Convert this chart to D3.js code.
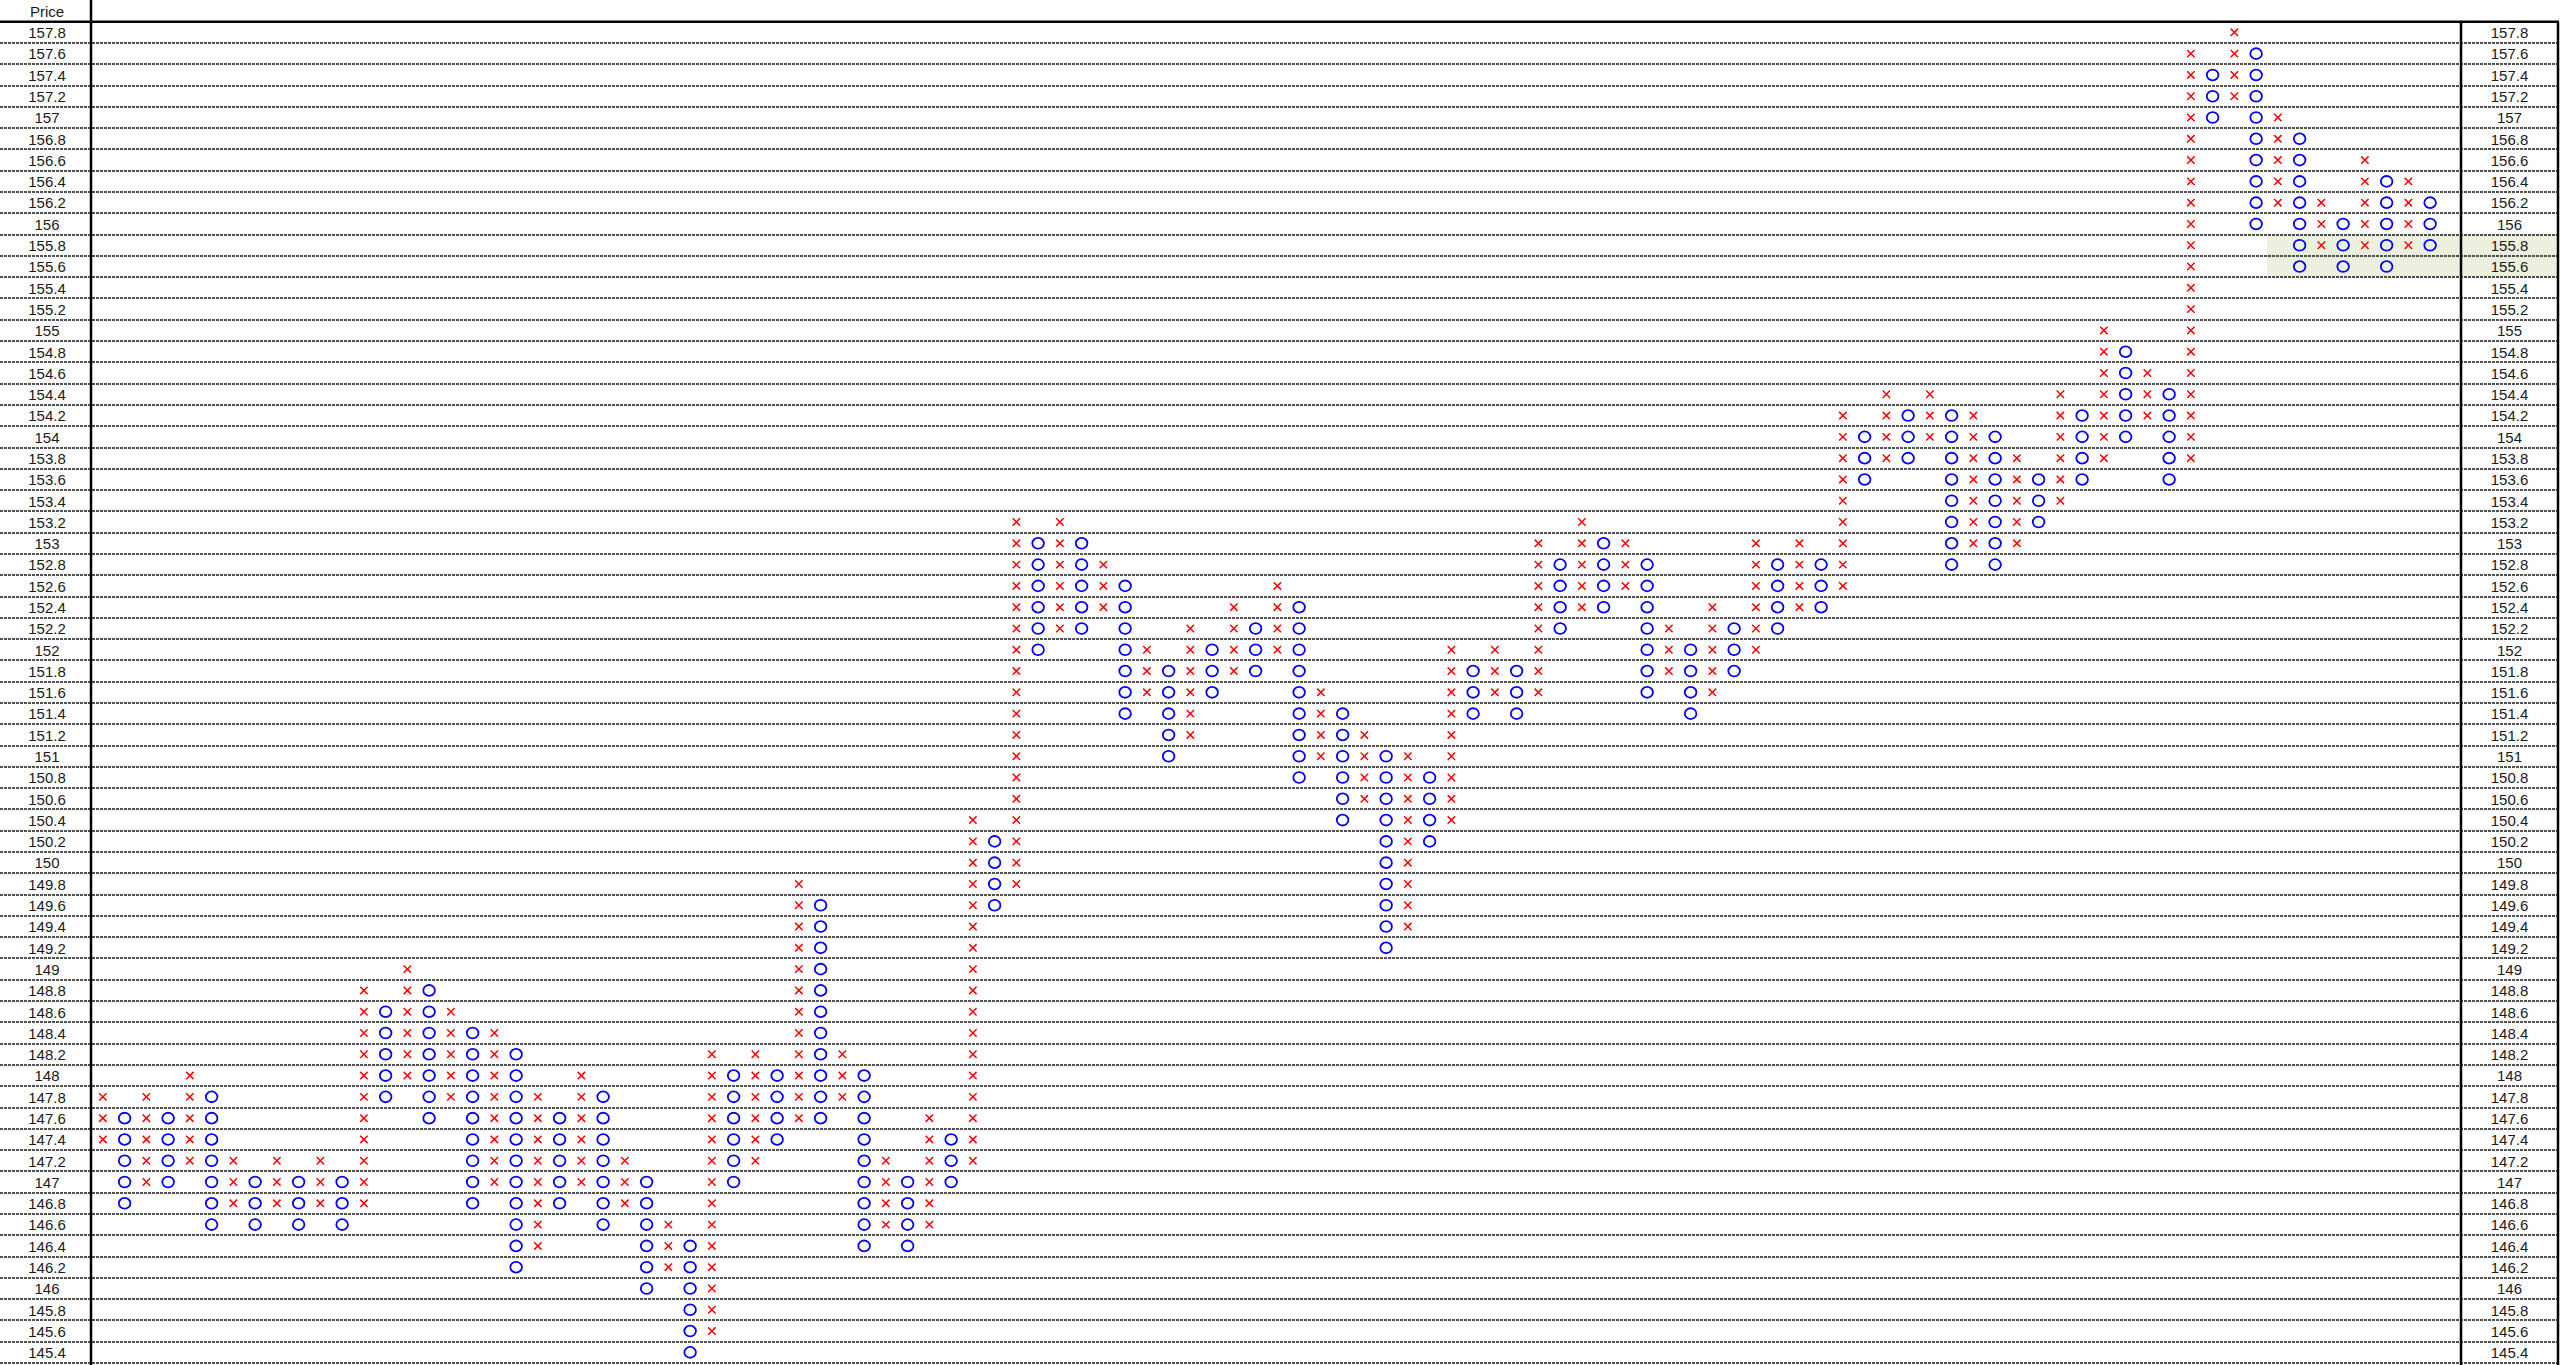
<!DOCTYPE html>
<html><head><meta charset="utf-8">
<script src="https://cdn.jsdelivr.net/npm/d3@7"></script>
<style>html,body{margin:0;padding:0;background:#fff;overflow:hidden}</style>
</head><body>
<svg id="chart" width="2560" height="1365"></svg>
<script>
// ---- data ----
const priceLabels = ["157.8","157.6","157.4","157.2","157","156.8","156.6","156.4","156.2","156",
  "155.8","155.6","155.4","155.2","155","154.8","154.6","154.4","154.2","154",
  "153.8","153.6","153.4","153.2","153","152.8","152.6","152.4","152.2","152",
  "151.8","151.6","151.4","151.2","151","150.8","150.6","150.4","150.2","150",
  "149.8","149.6","149.4","149.2","149","148.8","148.6","148.4","148.2","148",
  "147.8","147.6","147.4","147.2","147","146.8","146.6","146.4","146.2","146",
  "145.8","145.6","145.4"];
const headerLabel = "Price";
const boxSize = 0.2;

const columnTypes = ["X","O","X","O","X","O","X","O","X","O","X","O","X","O","X","O","X","O","X","O",
  "X","O","X","O","X","O","X","O","X","O","X","O","X","O","X","O","X","O","X","O",
  "X","O","X","O","X","O","X","O","X","O","X","O","X","O","X","O","X","O","X","O",
  "X","O","X","O","X","O","X","O","X","O","X","O","X","O","X","O","X","O","X","O",
  "X","O","X","O","X","O","X","O","X","O","X","O","X","O","X","O","X","O","X","O",
  "X","O","X","O","X","O","X","O"];
const columnLows = [147.4,146.8,147.0,147.0,147.2,146.6,146.8,146.6,146.8,146.6,
  146.8,146.6,146.8,147.8,148.0,147.6,147.8,146.8,147.0,146.2,
  146.4,146.8,147.0,146.6,146.8,146.0,146.2,145.4,145.6,147.0,
  147.2,147.4,147.6,147.6,147.8,146.4,146.6,146.4,146.6,147.0,
  147.2,149.6,149.8,152.0,152.2,152.2,152.4,151.4,151.6,151.0,
  151.2,151.6,151.8,151.8,152.0,150.8,151.0,150.4,150.6,149.2,
  149.4,150.2,150.4,151.4,151.6,151.4,151.6,152.2,152.4,152.4,
  152.6,151.6,151.8,151.4,151.6,151.8,152.0,152.2,152.4,152.4,
  152.6,153.6,153.8,153.8,154.0,152.8,153.0,152.8,153.0,153.2,
  153.4,153.6,153.8,154.0,154.2,153.6,153.8,157.0,157.2,156.0,
  156.2,155.6,155.8,155.6,155.8,155.6,155.8,155.8];
const columnHighs = [147.8,147.6,147.8,147.6,148.0,147.8,147.2,147.0,147.2,147.0,
  147.2,147.0,148.8,148.6,149.0,148.8,148.6,148.4,148.4,148.2,
  147.8,147.6,148.0,147.8,147.2,147.0,146.6,146.4,148.2,148.0,
  148.2,148.0,149.8,149.6,148.2,148.0,147.2,147.0,147.6,147.4,
  150.4,150.2,153.2,153.0,153.2,153.0,152.8,152.6,152.0,151.8,
  152.2,152.0,152.4,152.2,152.6,152.4,151.6,151.4,151.2,151.0,
  151.0,150.8,152.0,151.8,152.0,151.8,153.0,152.8,153.2,153.0,
  153.0,152.8,152.2,152.0,152.4,152.2,153.0,152.8,153.0,152.8,
  154.2,154.0,154.4,154.2,154.4,154.2,154.2,154.0,153.8,153.6,
  154.4,154.2,155.0,154.8,154.6,154.4,157.6,157.4,157.8,157.6,
  157.0,156.8,156.2,156.0,156.6,156.4,156.4,156.2];
const highlightPrices = ["155.8","155.6"];
const highlightStartColumn = 100;

// ---- layout ----
const W = 2560, H = 1365;
const topY = 21.7, bottomY = 1363;
const leftColRight = 91, dataLeft = 92, dataRight = 2441;
const rightColLeft = 2461, rightColRight = 2558;

const svg = d3.select("#chart");
const key = p => String(+p.toFixed(1));

const y = d3.scaleBand().domain(priceLabels).range([topY, bottomY]).padding(0);
const x = d3.scaleBand().domain(d3.range(columnTypes.length)).range([dataLeft, dataRight]).padding(0);

// highlight
svg.append("rect")
  .attr("x", x(highlightStartColumn))
  .attr("y", y(highlightPrices[0]))
  .attr("width", rightColRight - x(highlightStartColumn))
  .attr("height", y(highlightPrices[highlightPrices.length-1]) + y.bandwidth() - y(highlightPrices[0]))
  .attr("fill", "#EBF1DE");

// dashed row lines
svg.append("g").selectAll("line").data(priceLabels).join("line")
  .attr("x1", 0).attr("x2", rightColRight)
  .attr("y1", d => Math.round(y(d) + y.bandwidth()))
  .attr("y2", d => Math.round(y(d) + y.bandwidth()))
  .attr("stroke", "#1a1a1a").attr("stroke-width", 1.6)
  .attr("stroke-dasharray", "3,1");

// thick frame lines
const thick = svg.append("g").attr("stroke", "#000").attr("stroke-width", 2.5);
thick.append("line").attr("x1", 0).attr("x2", rightColRight + 1).attr("y1", topY).attr("y2", topY);
thick.append("line").attr("x1", leftColRight).attr("x2", leftColRight).attr("y1", 0).attr("y2", H);
thick.append("line").attr("x1", rightColLeft).attr("x2", rightColLeft).attr("y1", topY).attr("y2", H);
thick.append("line").attr("x1", rightColRight).attr("x2", rightColRight).attr("y1", topY).attr("y2", H);

// labels
const font = "'Liberation Sans', Arial, sans-serif";
svg.append("text").text(headerLabel)
  .attr("x", 47).attr("y", 17)
  .attr("text-anchor", "middle").attr("font-family", font).attr("font-size", 15).attr("fill", "#1a1a1a");

const lbl = svg.append("g").attr("font-family", font).attr("font-size", 15).attr("fill", "#1a1a1a").attr("text-anchor", "middle");
lbl.selectAll("text.l").data(priceLabels).join("text").attr("class", "l")
  .attr("x", 47).attr("y", d => y(d) + y.bandwidth()/2 + 5.8).text(d => d);
lbl.selectAll("text.r").data(priceLabels).join("text").attr("class", "r")
  .attr("x", (rightColLeft + rightColRight)/2).attr("y", d => y(d) + y.bandwidth()/2 + 5.8).text(d => d);

// boxes
const boxes = [];
columnTypes.forEach((t, i) => {
  const lo = Math.round(columnLows[i] / boxSize), hi = Math.round(columnHighs[i] / boxSize);
  for (let k = lo; k <= hi; k++) boxes.push({col: i, type: t, price: key(k * boxSize)});
});

const marks = svg.append("g");
const cx = d => x(d.col) + x.bandwidth()/2;
const cy = d => y(d.price) + y.bandwidth()/2;

marks.selectAll("ellipse").data(boxes.filter(b => b.type === "O")).join("ellipse")
  .attr("cx", cx).attr("cy", cy).attr("rx", 5.8).attr("ry", 5.4)
  .attr("fill", "none").attr("stroke", "#0000FF").attr("stroke-width", 1.8);

const s = 3.7;
marks.selectAll("path").data(boxes.filter(b => b.type === "X")).join("path")
  .attr("d", d => {
    const a = cx(d), b = cy(d);
    return `M${a-s},${b-s}L${a+s},${b+s}M${a+s},${b-s}L${a-s},${b+s}`;
  })
  .attr("fill", "none").attr("stroke", "#FF0000").attr("stroke-width", 1.5);
</script>
</body></html>
